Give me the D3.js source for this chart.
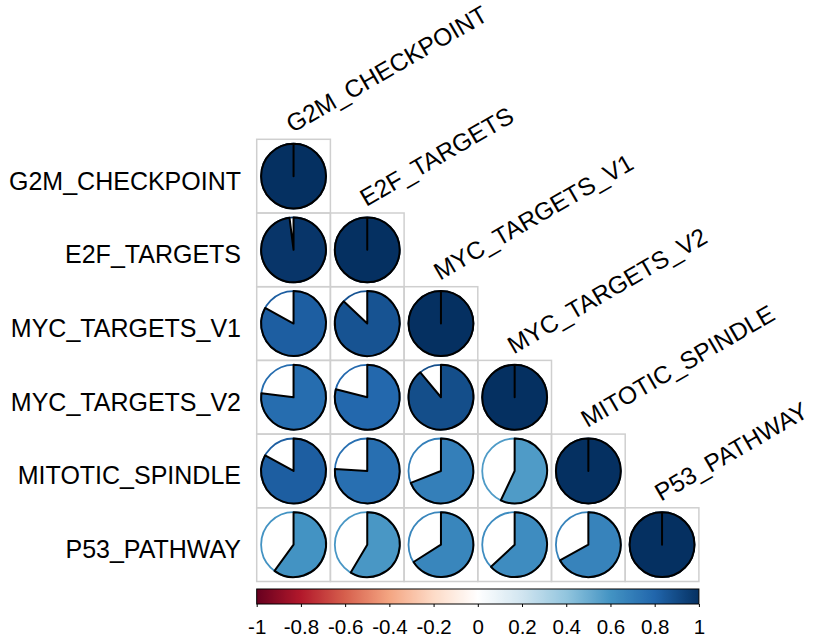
<!DOCTYPE html>
<html>
<head>
<meta charset="utf-8">
<script src="https://cdn.jsdelivr.net/npm/d3@7"></script>
<style>
  html, body { margin: 0; padding: 0; background: #ffffff; }
  svg { display: block; }
  text { font-family: "Liberation Sans", Arial, Helvetica, sans-serif; fill: #000; }
</style>
</head>
<body>
<svg id="chart" width="819" height="642"></svg>
<script>
// Hallmark gene-set names (rows and columns share the same order)
const geneSets = ["G2M_CHECKPOINT", "E2F_TARGETS", "MYC_TARGETS_V1",
                  "MYC_TARGETS_V2", "MITOTIC_SPINDLE", "P53_PATHWAY"];

// Lower-triangle correlation values, one array per row
const rowG2M  = [1];
const rowE2F  = [0.98, 1];
const rowMYC1 = [0.83, 0.87, 1];
const rowMYC2 = [0.77, 0.79, 0.89, 1];
const rowMIT  = [0.83, 0.76, 0.69, 0.57, 1];
const rowP53  = [0.60, 0.585, 0.66, 0.63, 0.67, 1];
const corrRows = [rowG2M, rowE2F, rowMYC1, rowMYC2, rowMIT, rowP53];

// Colour-bar tick values and RdBu palette stops
const barTicks = [-1, -0.8, -0.6, -0.4, -0.2, 0, 0.2, 0.4, 0.6, 0.8, 1];
const rdbu = ["#67001F", "#B2182B", "#D6604D", "#F4A582", "#FDDBC7", "#FFFFFF",
              "#D1E5F0", "#92C5DE", "#4393C3", "#2166AC", "#053061"];

const svg = d3.select("#chart");

const gridLeft = 256.7, gridTop = 139.3, cell = 73.7;
const n = geneSets.length;

const x = d3.scaleBand().domain(geneSets).range([gridLeft, gridLeft + cell * n]).padding(0);
const y = d3.scaleBand().domain(geneSets).range([gridTop, gridTop + cell * n]).padding(0);
const color = d3.scaleLinear().domain(d3.range(11).map(i => -1 + i * 0.2)).range(rdbu)
  .interpolate(d3.interpolateRgb);
const angle = d3.scaleLinear().domain([0, 1]).range([0, 2 * Math.PI]);

// flatten triangle into cells
const cells = [];
corrRows.forEach((vals, i) => {
  vals.forEach((v, j) => cells.push({ row: geneSets[i], col: geneSets[j], value: v }));
});

const radius = x.bandwidth() * 0.44;

const g = svg.append("g");

// cell frames
g.selectAll("rect.cell").data(cells).join("rect")
  .attr("class", "cell")
  .attr("x", d => x(d.col))
  .attr("y", d => y(d.row))
  .attr("width", x.bandwidth())
  .attr("height", y.bandwidth())
  .attr("fill", "none")
  .attr("stroke", "#cfcfcf")
  .attr("stroke-width", 1.5);

const pies = g.selectAll("g.pie").data(cells).join("g")
  .attr("class", "pie")
  .attr("transform", d => `translate(${x(d.col) + x.bandwidth() / 2},${y(d.row) + y.bandwidth() / 2})`);

// background ring in the value colour
pies.append("circle")
  .attr("r", radius)
  .attr("fill", "#ffffff")
  .attr("stroke", d => color(d.value))
  .attr("stroke-width", 1.8);

// filled wedge, clockwise from 12 o'clock
pies.append("path")
  .attr("d", d => {
    const p = d3.path();
    const a = angle(Math.abs(d.value));
    p.moveTo(0, 0);
    p.lineTo(0, -radius);
    p.arc(0, 0, radius, -Math.PI / 2, -Math.PI / 2 + a, false);
    p.closePath();
    return p.toString();
  })
  .attr("fill", d => color(d.value))
  .attr("stroke", "#000")
  .attr("stroke-width", 2)
  .attr("stroke-linejoin", "round");

// row labels
svg.append("g").selectAll("text").data(geneSets).join("text")
  .attr("x", 241)
  .attr("y", d => y(d) + y.bandwidth() / 2 + 13.5)
  .attr("text-anchor", "end")
  .attr("font-size", 25)
  .text(d => d);

// column labels, rotated above the diagonal
svg.append("g").selectAll("text").data(geneSets).join("text")
  .attr("transform", d => `translate(${x(d) + x.bandwidth() / 2 - 1},${y(d) - 6}) rotate(-30)`)
  .attr("text-anchor", "start")
  .attr("font-size", 24.5)
  .text(d => d);

// colour bar
const barTop = 589, barH = 15;
const barScale = d3.scaleLinear().domain([-1, 1]).range([gridLeft, gridLeft + cell * n]);

const defs = svg.append("defs");
const grad = defs.append("linearGradient").attr("id", "rdbuGrad")
  .attr("x1", "0%").attr("x2", "100%").attr("y1", "0%").attr("y2", "0%");
grad.selectAll("stop").data(d3.range(0, 201)).join("stop")
  .attr("offset", i => (i / 200 * 100) + "%")
  .attr("stop-color", i => color(-1 + i / 100));

svg.append("rect")
  .attr("x", barScale(-1))
  .attr("y", barTop)
  .attr("width", barScale(1) - barScale(-1))
  .attr("height", barH)
  .attr("fill", "url(#rdbuGrad)")
  .attr("stroke", "#000")
  .attr("stroke-width", 1);

const axis = d3.axisBottom(barScale)
  .tickValues(barTicks)
  .tickSize(3)
  .tickPadding(12)
  .tickFormat(d => String(+d.toFixed(1)));

const axG = svg.append("g")
  .attr("transform", `translate(0,${barTop + barH})`)
  .call(axis);
axG.select(".domain").remove();
axG.selectAll(".tick line").attr("stroke", "#000");
axG.selectAll(".tick text")
  .attr("font-size", 20.5)
  .attr("font-family", "'Liberation Sans', Arial, Helvetica, sans-serif")
  .attr("fill", "#000");
</script>
</body>
</html>
